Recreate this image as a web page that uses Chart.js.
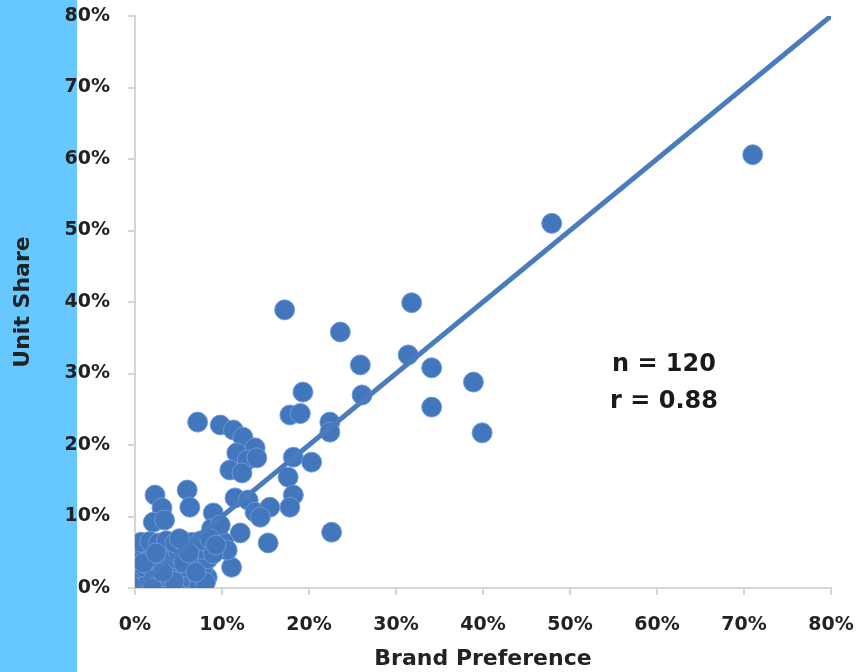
<!DOCTYPE html>
<html>
<head>
<meta charset="utf-8">
<title>Unit Share vs Brand Preference</title>
<script src="https://cdn.jsdelivr.net/npm/chart.js@4.4.1/dist/chart.umd.min.js"></script>
<style>
    html, body { margin: 0; padding: 0; background: #ffffff; }
    canvas { display: block; }
</style>
</head>
<body>
<canvas id="scatterChart" width="857" height="672"></canvas>
<script>
// Brand preference (x) and unit share (y), in percent
const brandPref = [
    71.0, 47.9, 31.8, 17.2, 23.6, 25.9, 31.4, 34.1, 38.9, 26.1,
    34.1, 39.9, 19.3, 17.8, 19.0, 22.4, 22.4, 7.2, 9.8, 11.3,
    12.4, 13.8, 11.7, 12.9, 14.0, 10.9, 12.3, 18.2, 20.3, 17.6,
    18.2, 17.8, 11.5, 13.0, 13.8, 15.5, 14.4, 22.6, 15.3, 9.0,
    12.1, 6.0, 6.3, 2.3, 3.1, 2.1, 3.4, 11.1,
    // low cluster
    0.2, 1.1, 2.0, 3.0, 3.9, 4.9, 5.8, 6.8, 7.6,
    0.5, 1.5, 2.5, 3.5, 4.4, 5.4, 6.3, 7.2, 8.3,
    0.2, 1.1, 2.0, 3.0, 3.9, 4.9, 5.8, 6.8, 7.8,
    0.6, 1.5, 2.5, 3.4, 4.4, 5.3, 6.3, 7.3, 8.4,
    0.2, 1.1, 2.0, 3.0, 3.9, 4.9, 5.8, 6.8, 7.9,
    0.7, 1.7, 2.7, 3.6, 4.6, 5.6, 6.6, 7.6,
    8.8, 9.5, 10.2, 10.6, 9.0, 9.8, 8.6, 9.3,
    7.3, 2.0, 4.5, 1.0, 3.2, 5.6, 6.2, 2.4, 5.1, 8.1, 7.0
];
const unitShare = [
    60.6, 51.0, 39.9, 38.9, 35.8, 31.2, 32.6, 30.8, 28.8, 27.0,
    25.3, 21.7, 27.4, 24.2, 24.4, 23.2, 21.8, 23.2, 22.8, 22.1,
    21.1, 19.6, 18.9, 17.9, 18.2, 16.5, 16.1, 18.3, 17.6, 15.5,
    13.0, 11.3, 12.6, 12.3, 10.6, 11.3, 9.9, 7.8, 6.3, 10.5,
    7.7, 13.7, 11.3, 13.0, 11.2, 9.2, 9.5, 2.9,
    // low cluster
    0.3, 0.2, 0.5, 0.3, 0.4, 0.2, 0.5, 0.3, 0.4,
    1.5, 1.7, 1.4, 1.6, 1.5, 1.7, 1.4, 1.6, 1.5,
    2.8, 2.9, 2.7, 3.0, 2.8, 2.7, 2.9, 3.0, 2.8,
    4.1, 4.3, 4.0, 4.2, 4.1, 4.3, 4.0, 4.2, 4.1,
    5.4, 5.5, 5.3, 5.6, 5.4, 5.3, 5.5, 5.6, 5.4,
    6.4, 6.5, 6.3, 6.6, 6.3, 6.5, 6.4, 6.6,
    8.3, 7.2, 6.4, 5.3, 4.8, 8.8, 6.9, 6.0,
    0.0, 0.0, 0.9, 3.5, 2.2, 3.5, 4.9, 4.9, 6.9, 0.8, 2.2
];
// Fitted line end points
const fitX = [0, 80];
const fitY = [0, 80];
const axisTicks = [0, 10, 20, 30, 40, 50, 60, 70, 80];
const statLines = ['n = 120', 'r = 0.88'];
const statX = 60.8;
const statY = [31.2, 26.0];

const dotColor = '#4277be';
const axisColor = '#d6d6d6';
const textColor = '#222222';

Chart.defaults.font.family = '"DejaVu Sans", sans-serif';

const points = brandPref.map((x, i) => ({ x: x, y: unitShare[i] }));
const fitLine = fitX.map((x, i) => ({ x: x, y: fitY[i] }));

// light blue strip on the left + white canvas
const backdrop = {
    id: 'backdrop',
    beforeDraw(chart) {
        const c = chart.ctx;
        c.save();
        c.fillStyle = '#ffffff';
        c.fillRect(0, 0, chart.width, chart.height);
        c.fillStyle = '#66c8fe';
        c.fillRect(0, 0, 77, chart.height);
        c.restore();
    }
};

// n and r annotation
const statText = {
    id: 'statText',
    afterDatasetsDraw(chart) {
        const c = chart.ctx;
        const xs = chart.scales.x, ys = chart.scales.y;
        c.save();
        c.font = 'bold 24px "DejaVu Sans", sans-serif';
        c.fillStyle = '#1a1a1a';
        c.textAlign = 'center';
        c.textBaseline = 'middle';
        statLines.forEach((t, i) => {
            c.fillText(t, xs.getPixelForValue(statX), ys.getPixelForValue(statY[i]));
        });
        c.restore();
    }
};

function axisOptions(title, fit) {
    return {
        type: 'linear',
        min: 0,
        max: 80,
        afterBuildTicks: scale => { scale.ticks = axisTicks.map(v => ({ value: v })); },
        ticks: {
            callback: v => v + '%',
            color: textColor,
            font: { size: 19, weight: 'bold' },
            padding: fit.pad
        },
        grid: {
            drawOnChartArea: false,
            drawTicks: true,
            tickLength: 7,
            color: axisColor,
            lineWidth: 2
        },
        border: { color: axisColor, width: 2 },
        title: {
            display: true,
            text: title,
            color: textColor,
            font: { size: 22, weight: 'bold' },
            padding: fit.titlePad
        },
        afterFit: fit.fn
    };
}

const ctx = document.getElementById('scatterChart').getContext('2d');
const chart = new Chart(ctx, {
    type: 'scatter',
    data: {
        datasets: [
            {
                type: 'line',
                label: 'Fit',
                data: fitLine,
                borderColor: '#4a7cbd',
                borderWidth: 5,
                pointRadius: 0,
                fill: false,
                order: 0
            },
            {
                label: 'Brands',
                data: points,
                backgroundColor: dotColor,
                borderColor: 'rgba(110,155,215,0.9)',
                borderWidth: 1,
                pointRadius: 10,
                order: 1
            }
        ]
    },
    options: {
        responsive: false,
        animation: false,
        devicePixelRatio: 1,
        layout: { padding: { top: 16, right: 26, left: 0, bottom: 0 } },
        plugins: {
            legend: { display: false },
            tooltip: { enabled: false }
        },
        scales: {
            x: axisOptions('Brand Preference', {
                pad: 19,
                titlePad: { top: 0, bottom: 0 },
                fn: scale => {
                    scale.height = 84;
                    scale.paddingLeft = 0;
                    scale.paddingRight = 0;
                }
            }),
            y: axisOptions('Unit Share', {
                pad: 18,
                titlePad: { top: 10, bottom: 0 },
                fn: scale => {
                    scale.width = 135;
                    scale.paddingTop = 0;
                    scale.paddingBottom = 0;
                }
            })
        }
    },
    plugins: [backdrop, statText]
});
</script>
</body>
</html>
